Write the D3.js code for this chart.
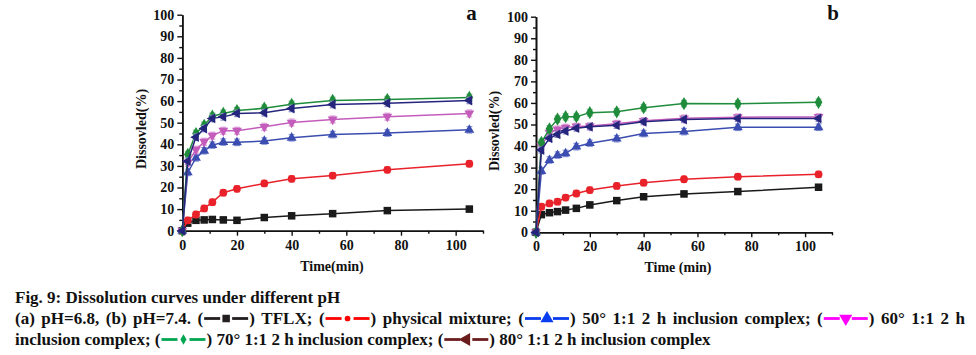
<!DOCTYPE html>
<html><head><meta charset="utf-8">
<script src="https://cdn.jsdelivr.net/npm/d3@7"></script>
<style>
body{margin:0;background:#fff}
svg{display:block}
text{font-family:"Liberation Serif","Times New Roman",serif;font-weight:bold;fill:#111}
</style>
</head><body>
<svg id="c" width="976" height="355"></svg>
<script>
// ---------- DATA ----------
const times = [0, 2, 5, 8, 11, 15, 20, 30, 40, 55, 75, 105];
const seriesNames = ["TFLX", "physical mixture", "50° 1:1 2 h inclusion complex", "60° 1:1 2 h inclusion complex", "70° 1:1 2 h inclusion complex", "80° 1:1 2 h inclusion complex"];
// pH = 6.8 (panel a)
const tflxA = [0, 3.5, 4.8, 5.0, 5.2, 5.0, 4.8, 6.1, 6.9, 7.9, 9.3, 10.0];
const physA = [0, 4.8, 7.5, 10.3, 13.2, 17.6, 19.4, 21.9, 24.0, 25.5, 28.2, 31.0];
const c50A  = [0, 27.0, 33.7, 37.0, 39.6, 41.0, 40.9, 41.5, 43.0, 44.5, 45.2, 46.7];
const c60A  = [0, 31.5, 37.5, 41.2, 44.0, 46.3, 46.3, 48.1, 50.1, 51.5, 52.8, 54.3];
const c70A  = [0, 35.3, 45.0, 48.8, 53.0, 54.3, 55.6, 56.7, 58.5, 60.3, 60.7, 61.7];
const c80A  = [0, 32.2, 43.3, 47.3, 52.0, 52.7, 54.3, 54.6, 56.6, 58.4, 59.0, 60.3];
// pH = 7.4 (panel b)
const tflxB = [0, 8.2, 9.1, 9.6, 10.3, 11.1, 12.7, 14.7, 16.5, 17.8, 18.9, 20.9];
const physB = [0, 11.9, 13.4, 14.2, 16.1, 18.0, 19.6, 21.5, 23.0, 24.6, 25.8, 26.9];
const c50B  = [0, 28.4, 33.5, 35.8, 36.6, 39.7, 41.3, 43.4, 45.8, 46.7, 48.7, 48.7];
const c60B  = [0, 40.0, 46.3, 47.8, 48.6, 49.1, 49.3, 50.4, 51.7, 52.9, 53.4, 53.5];
const c70B  = [0, 41.7, 48.0, 52.5, 53.6, 53.6, 55.5, 55.9, 57.8, 59.7, 59.6, 60.3];
const c80B  = [0, 38.2, 43.6, 45.4, 47.0, 48.3, 48.9, 49.6, 51.3, 52.3, 52.8, 52.8];
// error bar half-widths (%), one per series
const errA = [1.3, 1.4, 1.5, 1.6, 1.5, 1.5];
const errB = [1.3, 1.4, 1.5, 1.5, 1.5, 1.4];
const yTicks = [0, 10, 20, 30, 40, 50, 60, 70, 80, 90, 100];
const xTicks = [0, 20, 40, 60, 80, 100];

// ---------- STYLE ----------
const lineColors = ["#1a1a1a", "#e8212a", "#3b4db0", "#c45cbc", "#1f8c3c", "#25257e"];
const errColors  = ["#8a8a8a", "#f08080", "#8f9ad8", "#dc9ed8", "#86c896", "#8e8ec8"];
const legendColors = ["#231f20", "#ff0000", "#0a3cf0", "#ff00ff", "#00a651", "#6b1d1d"];
const shapes = ["square", "circle", "up", "down", "diamond", "left"];

const svg = d3.select("#c");

function marker(g, shape, size) {
  let p;
  if (shape === "square") p = g.append("path").attr("d", d3.symbol(d3.symbolSquare, size * size)());
  else if (shape === "circle") p = g.append("path").attr("d", d3.symbol(d3.symbolCircle, size * size * 0.85)());
  else if (shape === "diamond") p = g.append("path").attr("d", d3.symbol(d3.symbolDiamond, size * size * 0.9)());
  else {
    const rot = {up: 0, down: 180, left: -90}[shape];
    p = g.append("path").attr("d", d3.symbol(d3.symbolTriangle, size * size * 0.75)()).attr("transform", `rotate(${rot})`);
  }
  return p;
}

function panel(cfg) {
  const x = d3.scaleLinear().domain([0, 110]).range([cfg.x0, cfg.x1]);
  const y = d3.scaleLinear().domain([0, 100]).range([cfg.y0, cfg.y1]);
  const g = svg.append("g");

  // axes
  const yMaj = d3.axisLeft(y).tickValues(yTicks).tickSize(5).tickSizeOuter(0).tickPadding(3);
  const yMin = d3.axisLeft(y).tickValues(d3.range(5, 100, 10)).tickSize(3).tickSizeOuter(0).tickFormat("");
  const xMaj = d3.axisBottom(x).tickValues(xTicks).tickSize(5).tickSizeOuter(0).tickPadding(4);
  const xMin = d3.axisBottom(x).tickValues([10, 30, 50, 70, 90, 110]).tickSize(3).tickSizeOuter(0).tickFormat("");
  [yMin, yMaj].forEach(a => g.append("g").attr("transform", `translate(${cfg.x0},0)`).call(a));
  [xMin, xMaj].forEach(a => g.append("g").attr("transform", `translate(0,${cfg.y0})`).call(a));
  g.selectAll(".domain").attr("stroke", "#111").attr("stroke-width", 1.6);
  g.selectAll(".tick line").attr("stroke", "#111").attr("stroke-width", 1.4);
  g.selectAll(".tick text").attr("font-family", '"Liberation Serif","Times New Roman",serif')
    .attr("font-weight", "bold").attr("font-size", 14).attr("fill", "#111");

  // axis titles
  g.append("text").attr("x", cfg.xTitleX).attr("y", cfg.y0 + 40).attr("text-anchor", "middle")
    .attr("font-size", 14).text(cfg.xTitle);
  g.append("text").attr("transform", `translate(${cfg.yTitleX},${cfg.yTitleY}) rotate(-90)`)
    .attr("text-anchor", "middle").attr("font-size", 14).text("Dissovled(%)");
  g.append("text").attr("x", cfg.labX).attr("y", 20).attr("text-anchor", "middle")
    .attr("font-size", 21).text(cfg.label);

  // series
  cfg.series.forEach((vals, i) => {
    const pts = times.map((t, k) => [t, vals[k]]);
    const err = cfg.err[i];
    const eg = g.append("g").attr("stroke", errColors[i]).attr("stroke-width", 1.2).attr("fill", "none");
    pts.forEach(([t, v], k) => {
      if (k === 0) return;
      const cx = x(t), ya = y(v + err), yb = y(v - err);
      eg.append("line").attr("x1", cx).attr("x2", cx).attr("y1", ya).attr("y2", yb);
      eg.append("line").attr("x1", cx - 3).attr("x2", cx + 3).attr("y1", ya).attr("y2", ya);
      eg.append("line").attr("x1", cx - 3).attr("x2", cx + 3).attr("y1", yb).attr("y2", yb);
    });
    g.append("path").datum(pts)
      .attr("d", d3.line().x(d => x(d[0])).y(d => y(d[1])))
      .attr("fill", "none").attr("stroke", lineColors[i]).attr("stroke-width", 1.5);
    pts.forEach(([t, v]) => {
      const mg = g.append("g").attr("transform", `translate(${x(t)},${y(v)})`);
      marker(mg, shapes[i], 7.5).attr("fill", lineColors[i]);
    });
  });
}

panel({x0: 182.3, x1: 483, y0: 230.7, y1: 14.7, xTitle: "Time(min)", xTitleX: 332, yTitleX: 146, yTitleY: 129,
  label: "a", labX: 471.5, series: [tflxA, physA, c50A, c60A, c70A, c80A], err: errA});
panel({x0: 536, x1: 832, y0: 232.3, y1: 16.7, xTitle: "Time (min)", xTitleX: 678, yTitleX: 499, yTitleY: 131,
  label: "b", labX: 833, series: [tflxB, physB, c50B, c60B, c70B, c80B], err: errB});

// ---------- CAPTION ----------
const capSize = 17;
const cap = svg.append("g").attr("font-size", capSize);
function sym(i) { return {sym: i}; }
const lines = [
  {y: 303, words: [["Fig. 9: Dissolution"], ["curves"], ["under"], ["different"], ["pH"]], justify: null},
  {y: 324, words: [["(a)"], ["pH=6.8,"], ["(b)"], ["pH=7.4."], ["(", sym(0), ")"], ["TFLX;"], ["(", sym(1), ")"], ["physical"], ["mixture;"],
     ["(", sym(2), ")"], ["50°"], ["1:1"], ["2"], ["h"], ["inclusion"], ["complex;"], ["(", sym(3), ")"], ["60°"], ["1:1"], ["2"], ["h"]], justify: 965},
  {y: 345, words: [["inclusion"], ["complex;"], ["(", sym(4), ")"], ["70°"], ["1:1"], ["2"], ["h"], ["inclusion"], ["complex;"], ["(", sym(5), ")"],
     ["80°"], ["1:1"], ["2"], ["h"], ["inclusion"], ["complex"]], justify: null}
];
const symW = 44;
const spaceW = capSize * 0.25;
lines.forEach(L => {
  const groups = L.words.map(parts => {
    const wg = cap.append("g");
    let cx = 0;
    parts.forEach(p => {
      if (typeof p === "string") {
        const t = wg.append("text").attr("x", cx).attr("y", 0).text(p);
        cx += t.node().getComputedTextLength();
      } else {
        const sg = wg.append("g").attr("transform", `translate(${cx + 1},${-5.5})`);
        const c = legendColors[p.sym];
        sg.append("line").attr("x1", 0).attr("x2", 16).attr("y1", 0).attr("y2", 0).attr("stroke", c).attr("stroke-width", 2.8);
        sg.append("line").attr("x1", symW - 16).attr("x2", symW).attr("y1", 0).attr("y2", 0).attr("stroke", c).attr("stroke-width", 2.8);
        const mg = sg.append("g").attr("transform", `translate(${symW / 2},0)`);
        const sz = {square: 7.5, circle: 5.5, up: 10, down: 10, diamond: 6, left: 10}[shapes[p.sym]];
        marker(mg, shapes[p.sym], sz).attr("fill", c);
        cx += symW + 2;
      }
    });
    return {g: wg, w: cx};
  });
  const total = groups.reduce((s, d) => s + d.w, 0);
  const gap = L.justify ? (L.justify - 15 - total) / (groups.length - 1) : spaceW;
  let x = 15;
  groups.forEach(d => { d.g.attr("transform", `translate(${x},${L.y})`); x += d.w + gap; });
});
</script>
</body></html>
